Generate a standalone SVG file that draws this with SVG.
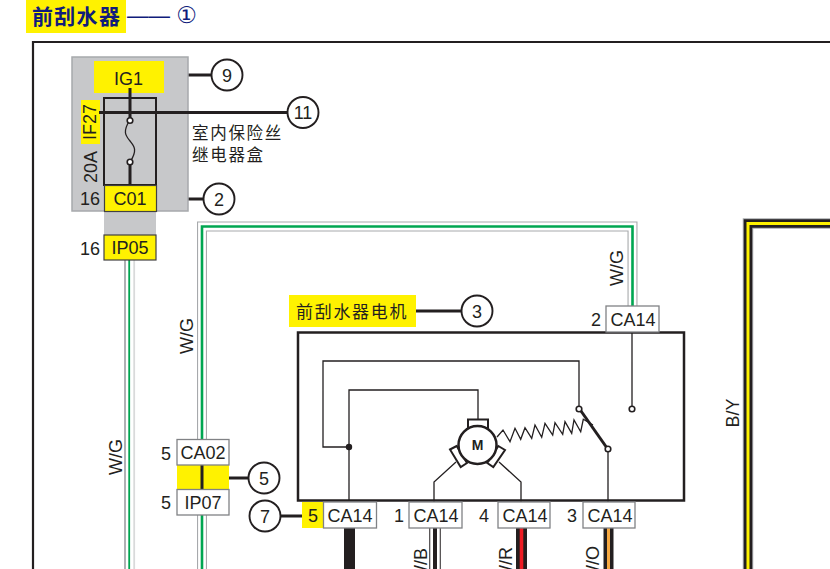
<svg xmlns="http://www.w3.org/2000/svg" width="830" height="569" viewBox="0 0 830 569">
<style>
text{font-family:"Liberation Sans",Arial,"Noto Sans CJK SC",sans-serif;fill:#231f20;font-size:18px}
.c{text-anchor:middle}
.cn{font-family:"Noto Sans CJK SC","Liberation Sans",sans-serif}
.y{fill:#fff200}
.w{fill:#fff;stroke:#808285;stroke-width:1.3}
.ye{fill:#fff200;stroke:#414042;stroke-width:1.2}
.ln{fill:none;stroke:#231f20}
.ci{fill:#fff;stroke:#231f20;stroke-width:1.9}
.o{fill:#fff;stroke:#231f20;stroke-width:1.6}
.thin{fill:none;stroke:#231f20;stroke-width:1.3}
.br{fill:#fff;stroke:#231f20;stroke-width:2}
</style>
<rect width="830" height="569" fill="#fff"/>
<g id="title">
<rect class="y" x="26" y="0" width="100" height="33"/>
<text class="cn" x="32" y="23.500" style="font-size:21px;font-weight:700;fill:#101c7c;letter-spacing:1.300px">前刮水器</text>
<text x="127" y="23" style="font-size:21.500px;fill:#101c7c">——</text>
<text class="c" x="186.500" y="23" style="font-family:'DejaVu Sans',sans-serif;font-size:23px;fill:#101c7c">①</text>
</g>
<path id="frame" d="M33,569V42H830" class="ln" stroke-width="2.200"/>
<g id="connectors" fill="none">
<g id="wire-wg-left">
<path d="M125,260V569" stroke="#a7a9ac" stroke-width="1.800"/><path d="M129.200,260V569" stroke="#00a651" stroke-width="1.800"/><path d="M134.200,260V569" stroke="#d9dadb" stroke-width="1.800"/>
</g>
<g id="wire-wg-loop">
<path d="M202,569V226.500H632.500V306" stroke="#a7a9ac" stroke-width="10"/><path d="M202,569V226.500H632.500V306" stroke="#fff" stroke-width="7.800"/><path d="M202,569V226.500H632.500V306" stroke="#00a651" stroke-width="2.600"/>
</g>
<g id="wire-by">
<path d="M748,569V223.500H830" stroke="#a7a9ac" stroke-width="10.500"/><path d="M748,569V223.500H830" stroke="#231f20" stroke-width="8.500"/><path d="M748,569V223.500H830" stroke="#fff200" stroke-width="3"/>
</g>
<path d="M349.500,528V569" stroke="#231f20" stroke-width="11"/>
<path d="M435,528V569" stroke="#231f20" stroke-width="11.500"/><path d="M435,528V569" stroke="#fff" stroke-width="9.500"/><path d="M435,528V569" stroke="#231f20" stroke-width="4"/>
<path d="M521.500,528V569" stroke="#231f20" stroke-width="11"/><path d="M521.500,528V569" stroke="#ed1c24" stroke-width="3.600"/>
<path d="M608.500,528V569" stroke="#231f20" stroke-width="10"/><path d="M608.500,528V569" stroke="#f7a941" stroke-width="3"/>
<path d="M130,211V235" class="ln" stroke-width="3.200"/>
<path d="M165,75H212M157,199H204M416,311H462M229,478H249M281,516H302" class="ln" stroke-width="2.800"/>
<path d="M156,112.500H288" class="ln" stroke-width="2.800"/>
</g>
<g id="fuse-box">
<rect x="72" y="57" width="116" height="154" fill="#c7c8ca" stroke="#a7a9ac" stroke-width="1.500"/>
<rect x="104" y="211" width="52" height="24" fill="#c7c8ca"/>
<rect class="y" x="94" y="61" width="70" height="32"/>
<text class="c" x="128.500" y="85">IG1</text>
<rect class="y" x="81" y="100" width="19" height="44"/>
<text class="c" transform="translate(96,122) rotate(-90)">IF27</text>
<text class="c" transform="translate(97,167) rotate(-90)">20A</text>
<rect x="104" y="98" width="52" height="87" fill="none" stroke="#231f20" stroke-width="2"/>
<path d="M130,88V120M130,162V185" class="ln" stroke-width="3"/>
<path d="M130,120C122,132 126,136 130,141C134,146 138,150 130,162" class="thin"/>
<path d="M99,112.500H288" class="ln" stroke-width="2.800"/>
<circle class="o" cx="130" cy="120.500" r="2.800"/><circle class="o" cx="130" cy="162" r="2.800"/>
<text class="cn" x="192" y="139" style="font-size:16.500px;letter-spacing:1.700px">室内保险丝</text>
<text class="cn" x="192" y="161" style="font-size:16.500px;letter-spacing:1.700px">继电器盒</text>
<text class="c" x="90" y="205">16</text>
<rect class="ye" x="104.500" y="185.500" width="52" height="26"/>
<text class="c" x="130" y="205">C01</text>
</g>
<g id="ip05">
<text class="c" x="90" y="255">16</text>
<rect class="ye" x="104" y="235" width="52" height="25"/>
<text class="c" x="130" y="254">IP05</text>
</g>
<g id="ca02-ip07">
<rect class="y" x="177" y="465" width="52" height="25"/>
<path d="M202,465V490" class="ln" stroke-width="3"/>
<rect class="w" x="177" y="439.500" width="52" height="25.500"/>
<text class="c" x="203" y="459">CA02</text><text class="c" x="166" y="460">5</text>
<rect class="w" x="177" y="489.500" width="52" height="25.500"/>
<text class="c" x="203" y="509">IP07</text><text class="c" x="166" y="509">5</text>
</g>
<g id="motor">
<rect x="298" y="332.500" width="386" height="168" fill="#fff" stroke="#231f20" stroke-width="2.500"/>
<path d="M349,501V390H478V419M349,447H323V361H579V407M632,332V407M608,452V502M456,462L434,482V502M499,462L521,482V502" class="thin"/>
<circle cx="349" cy="447" r="3.200" fill="#231f20"/>
<path d="M497,437L503,430L510,441.700L515,428.300L520.700,439.300L525,427.700L531.700,438.300L535,425L541.700,437.300L545,423.300L552.700,435L555,422.700L562.700,434.300L565,421.700L571.700,433.300L574,420L580.700,431.700L583.300,419.300L593,425" class="thin"/>
<path d="M581,411L607,448" class="ln" stroke-width="3"/>
<circle class="o" cx="579" cy="409" r="2.800"/><circle class="o" cx="632" cy="409" r="2.800"/><circle class="o" cx="608" cy="449" r="2.800"/>
<rect class="br" x="468" y="419.500" width="20" height="9"/>
<path class="br" d="M456.700,446L450,449.500L460.700,467L467,463Z"/>
<path class="br" d="M498.300,446L505,450L493.300,467L487.300,463Z"/>
<circle cx="477.500" cy="445" r="19" fill="#fff" stroke="#231f20" stroke-width="2.500"/>
<text class="c" x="477.500" y="450" style="font-size:14px;font-weight:700">M</text>
</g>
<g id="label-motor">
<rect class="y" x="289" y="295" width="127" height="32"/>
<text class="cn" x="296" y="318" style="font-size:17px;letter-spacing:1.700px">前刮水器电机</text>
</g>
<g id="ca14-2">
<rect class="w" x="606" y="306" width="53" height="26"/>
<text class="c" x="633" y="326">CA14</text><text class="c" x="596" y="326">2</text>
</g>
<g id="ca14-5">
<rect class="y" x="302" y="502" width="21" height="26"/>
<rect class="w" x="323.500" y="502" width="53" height="26"/>
<text class="c" x="350" y="522">CA14</text><text class="c" x="313" y="522">5</text>
</g>
<g id="ca14-1">
<rect class="w" x="409" y="502" width="53" height="26"/>
<text class="c" x="436" y="522">CA14</text><text class="c" x="399" y="522">1</text>
</g>
<g id="ca14-4">
<rect class="w" x="498" y="502" width="52" height="26"/>
<text class="c" x="525" y="522">CA14</text><text class="c" x="484" y="522">4</text>
</g>
<g id="ca14-3">
<rect class="w" x="583" y="502" width="52" height="26"/>
<text class="c" x="610" y="522">CA14</text><text class="c" x="572" y="522">3</text>
</g>
<g id="callouts">
<g id="c9"><circle class="ci" cx="227" cy="75" r="15.500"/><text class="c" x="227" y="81.500">9</text></g>
<g id="c11"><circle class="ci" cx="303" cy="112.500" r="15.500"/><text class="c" x="303" y="119">11</text></g>
<g id="c2"><circle class="ci" cx="219" cy="199" r="15.500"/><text class="c" x="219" y="205.500">2</text></g>
<g id="c3"><circle class="ci" cx="477" cy="311" r="15.500"/><text class="c" x="477" y="317.500">3</text></g>
<g id="c5"><circle class="ci" cx="264" cy="478" r="15.500"/><text class="c" x="264" y="484.500">5</text></g>
<g id="c7"><circle class="ci" cx="265" cy="516" r="15.500"/><text class="c" x="265" y="522.500">7</text></g>
</g>
<g id="wire-labels">
<text class="c" transform="translate(623,268) rotate(-90)">W/G</text>
<text class="c" transform="translate(193,336) rotate(-90)">W/G</text>
<text class="c" transform="translate(122,457) rotate(-90)">W/G</text>
<text class="c" transform="translate(739,413) rotate(-90)">B/Y</text>
<text transform="translate(342,582) rotate(-90)">B</text>
<text transform="translate(427,582) rotate(-90)">W/B</text>
<text transform="translate(512,582) rotate(-90)">W/R</text>
<text transform="translate(599,582) rotate(-90)">W/O</text>
</g>
</svg>
